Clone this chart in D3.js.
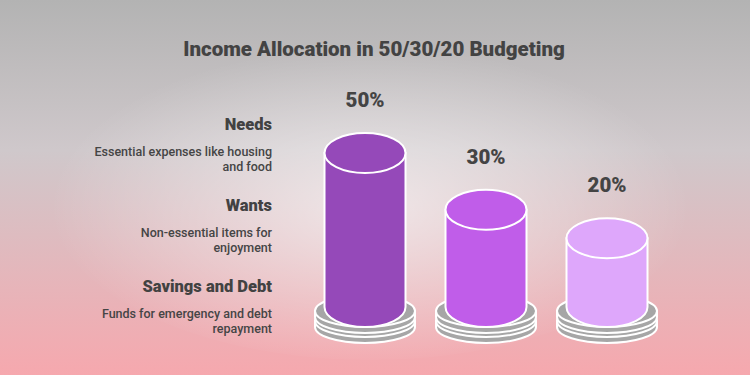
<!DOCTYPE html>
<html>
<head>
<meta charset="utf-8">
<script src="https://cdn.jsdelivr.net/npm/d3@7"></script>
<style>
  body { margin: 0; padding: 0; }
  svg { display: block; font-family: Roboto, "Noto Sans", sans-serif; }
</style>
</head>
<body>
<script>

var categories = ["Needs", "Wants", "Savings and Debt"];
var descriptions = [
  ["Essential expenses like housing", "and food"],
  ["Non-essential items for", "enjoyment"],
  ["Funds for emergency and debt", "repayment"]
];
var values = [50, 30, 20];
var labels = ["50%", "30%", "20%"];
var colors = ["#9549b9", "#c05de9", "#dea7fb"];

var width = 750, height = 375;

var svg = d3.select("body").append("svg")
    .attr("width", width)
    .attr("height", height);

var defs = svg.append("defs");

// background: gray at the top, pink at the bottom, light glow in the middle
var bg = defs.append("linearGradient")
    .attr("id", "bg")
    .attr("x1", 0).attr("y1", 0).attr("x2", 0).attr("y2", 1);
bg.append("stop").attr("offset", "0%").attr("stop-color", "#b3b3b3");
bg.append("stop").attr("offset", "40%").attr("stop-color", "#cfc8cb");
bg.append("stop").attr("offset", "100%").attr("stop-color", "#f6a8ae");

var glow = defs.append("radialGradient")
    .attr("id", "glow")
    .attr("cx", 0.5).attr("cy", 0.52).attr("r", 0.5);
glow.append("stop").attr("offset", "0%").attr("stop-color", "#ffffff").attr("stop-opacity", 0.6);
glow.append("stop").attr("offset", "100%").attr("stop-color", "#ffffff").attr("stop-opacity", 0);

svg.append("rect").attr("width", width).attr("height", height).attr("fill", "url(#bg)");
svg.append("ellipse")
    .attr("cx", 370).attr("cy", 200)
    .attr("rx", 320).attr("ry", 160)
    .attr("fill", "url(#glow)");

// title
svg.append("text")
    .attr("x", 374)
    .attr("y", 56)
    .attr("text-anchor", "middle")
    .attr("font-size", "20.5px")
    .attr("font-weight", 900)
    .attr("fill", "#434343")
    .text("Income Allocation in 50/30/20 Budgeting");

// scales
var xScale = d3.scalePoint().domain(categories).range([365, 607]);
var yScale = d3.scaleLinear().domain([0, 50]).range([295, 153]);
var rowScale = d3.scalePoint().domain(categories).range([130, 292]);

var rx = 40.5, ry = 20;
var bodyBottom = 307;
var baseRx = 50, baseRy = 16, baseT = 6;

function discPath(cx, cy, a, b, t) {
  return "M" + (cx - a) + "," + cy +
    " L" + (cx - a) + "," + (cy + t) +
    " A" + a + "," + b + " 0 0 0 " + (cx + a) + "," + (cy + t) +
    " L" + (cx + a) + "," + cy + " Z";
}

// left side legend texts
var rows = svg.append("g").selectAll("g")
    .data(categories)
    .join("g");

rows.append("text")
    .attr("x", 272)
    .attr("y", function(d) { return rowScale(d); })
    .attr("text-anchor", "end")
    .attr("font-size", "16.5px")
    .attr("font-weight", 900)
    .attr("fill", "#424242")
    .text(function(d) { return d; });

rows.each(function(d, i) {
  var g = d3.select(this);
  descriptions[i].forEach(function(line, j) {
    g.append("text")
      .attr("x", 272)
      .attr("y", rowScale(d) + 26 + j * 15)
      .attr("text-anchor", "end")
      .attr("font-size", "12.5px")
      .attr("font-weight", 500)
      .attr("fill", "#454545")
      .text(line);
  });
});

// cylinders
var cyl = svg.append("g").selectAll("g")
    .data(categories)
    .join("g");

cyl.each(function(d, i) {
  var g = d3.select(this);
  var cx = xScale(d);
  var top = yScale(values[i]);

  // base: two stacked gray discs
  [321, 311].forEach(function(cy) {
    g.append("path")
      .attr("d", discPath(cx, cy, baseRx, baseRy, baseT))
      .attr("fill", "#a6a6a6")
      .attr("stroke", "#ffffff")
      .attr("stroke-width", 2);
    g.append("ellipse")
      .attr("cx", cx).attr("cy", cy)
      .attr("rx", baseRx).attr("ry", baseRy)
      .attr("fill", "#a6a6a6")
      .attr("stroke", "#ffffff")
      .attr("stroke-width", 2);
  });

  // body
  g.append("path")
    .attr("d", discPath(cx, top, rx, ry, bodyBottom - top))
    .attr("fill", colors[i])
    .attr("stroke", "#ffffff")
    .attr("stroke-width", 2);
  g.append("ellipse")
    .attr("cx", cx).attr("cy", top)
    .attr("rx", rx).attr("ry", ry)
    .attr("fill", colors[i])
    .attr("stroke", "#ffffff")
    .attr("stroke-width", 2);

  // value label
  g.append("text")
    .attr("x", cx)
    .attr("y", top - ry - 26)
    .attr("text-anchor", "middle")
    .attr("font-size", "20.5px")
    .attr("font-weight", 900)
    .attr("fill", "#444444")
    .text(labels[i]);
});

</script>
</body>
</html>
